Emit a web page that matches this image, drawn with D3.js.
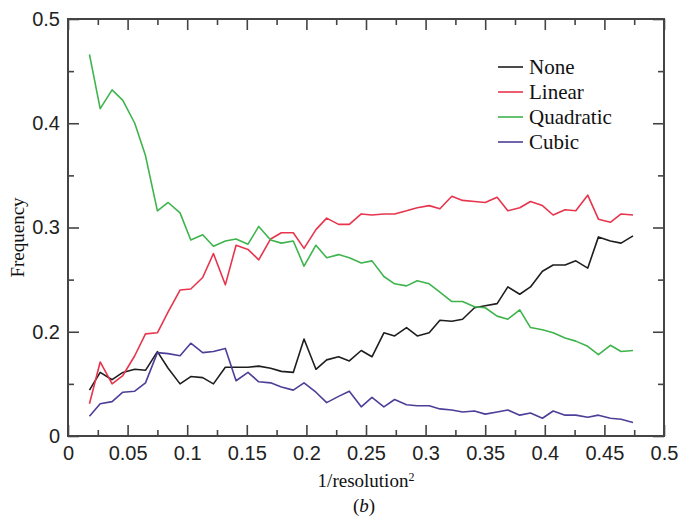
<!DOCTYPE html>
<html>
<head>
<meta charset="utf-8">
<script src="https://cdn.jsdelivr.net/npm/d3@7.9.0/dist/d3.min.js"></script>
<style>
  body { margin: 0; background: #fff; }
  svg { display: block; font-family: 'Liberation Serif', 'Times New Roman', serif; }
  .axis text { font-size: 20px; fill: #222; }
  .axis line { stroke: #444; stroke-width: 1.6px; }
</style>
</head>
<body>
<svg width="681" height="520"></svg>
<script>
// 1/resolution^2 at each point
const xValues = [0.018, 0.027, 0.037, 0.046, 0.056, 0.065, 0.075, 0.084, 0.094, 0.103,
  0.113, 0.122, 0.132, 0.141, 0.151, 0.160, 0.170, 0.179, 0.189, 0.198,
  0.208, 0.217, 0.227, 0.236, 0.246, 0.255, 0.265, 0.274, 0.284, 0.293,
  0.303, 0.312, 0.322, 0.331, 0.341, 0.350, 0.360, 0.369, 0.379, 0.388,
  0.398, 0.407, 0.417, 0.426, 0.436, 0.445, 0.455, 0.464, 0.474];

const none = [0.144, 0.161, 0.154, 0.161, 0.164, 0.163, 0.181, 0.165, 0.150, 0.157,
  0.156, 0.150, 0.166, 0.166, 0.166, 0.167, 0.165, 0.162, 0.161, 0.193,
  0.164, 0.173, 0.176, 0.172, 0.182, 0.176, 0.199, 0.196, 0.204, 0.196,
  0.199, 0.211, 0.210, 0.212, 0.223, 0.225, 0.227, 0.243, 0.236, 0.243,
  0.258, 0.264, 0.264, 0.268, 0.261, 0.291, 0.287, 0.285, 0.292];

const linear = [0.131, 0.171, 0.150, 0.158, 0.177, 0.198, 0.199, 0.219, 0.240, 0.241,
  0.252, 0.275, 0.245, 0.283, 0.279, 0.269, 0.289, 0.295, 0.295, 0.280,
  0.298, 0.309, 0.303, 0.303, 0.313, 0.312, 0.313, 0.313, 0.316, 0.319,
  0.321, 0.318, 0.330, 0.326, 0.325, 0.324, 0.329, 0.316, 0.319, 0.325,
  0.321, 0.312, 0.317, 0.316, 0.331, 0.308, 0.305, 0.313, 0.312];

const quadratic = [0.466, 0.414, 0.432, 0.422, 0.400, 0.369, 0.316, 0.324, 0.314, 0.288,
  0.293, 0.282, 0.287, 0.289, 0.284, 0.301, 0.288, 0.285, 0.287, 0.263,
  0.283, 0.271, 0.274, 0.271, 0.266, 0.268, 0.253, 0.246, 0.244, 0.249,
  0.246, 0.238, 0.229, 0.229, 0.224, 0.223, 0.215, 0.212, 0.221, 0.204,
  0.202, 0.199, 0.194, 0.191, 0.186, 0.178, 0.187, 0.181, 0.182];

const cubic = [0.119, 0.131, 0.133, 0.142, 0.143, 0.151, 0.180, 0.179, 0.177, 0.189,
  0.180, 0.181, 0.184, 0.153, 0.161, 0.152, 0.151, 0.147, 0.144, 0.151,
  0.142, 0.132, 0.138, 0.143, 0.128, 0.137, 0.128, 0.135, 0.130, 0.129,
  0.129, 0.126, 0.125, 0.123, 0.124, 0.121, 0.123, 0.125, 0.120, 0.122,
  0.117, 0.124, 0.120, 0.120, 0.118, 0.120, 0.117, 0.116, 0.113];

const seriesNames = ['None', 'Linear', 'Quadratic', 'Cubic'];
const seriesColors = ['#1e1e1e', '#e6354d', '#3fb44c', '#4b3f98'];

const xMajor = [0, 0.05, 0.1, 0.15, 0.2, 0.25, 0.3, 0.35, 0.4, 0.45, 0.5];
const xMinor = [0.025, 0.075, 0.125, 0.175, 0.225, 0.275, 0.325, 0.375, 0.425, 0.475];
const xTickLabels = ['0', '0.05', '0.1', '0.15', '0.2', '0.25', '0.3', '0.35', '0.4', '0.45', '0.5'];
// the printed axis skips 0.1 and labels the bottom as 0
const yMajor = [0.1, 0.2, 0.3, 0.4, 0.5];
const yMinor = [0.15, 0.25, 0.35, 0.45];
const yTickLabels = ['0', '0.2', '0.3', '0.4', '0.5'];

const svg = d3.select('svg');
const margin = { top: 19, right: 17, bottom: 84, left: 68 };
const width = 681 - margin.left - margin.right;
const height = 520 - margin.top - margin.bottom;
const g = svg.append('g').attr('transform', `translate(${margin.left},${margin.top})`);

const x = d3.scaleLinear().domain([0, 0.5]).range([0, width]);
const y = d3.scaleLinear().domain([0.1, 0.5]).range([height, 0]);

function tidy(sel) {
  sel.select('.domain').remove();
}

// bottom
g.append('g').attr('class', 'axis').attr('transform', `translate(0,${height})`)
  .call(d3.axisBottom(x).tickValues(xMajor).tickSize(-11).tickPadding(10)
    .tickFormat((d, i) => xTickLabels[i]))
  .call(tidy);
g.append('g').attr('class', 'axis').attr('transform', `translate(0,${height})`)
  .call(d3.axisBottom(x).tickValues(xMinor).tickSize(-6).tickFormat(''))
  .call(tidy);
// top
g.append('g').attr('class', 'axis')
  .call(d3.axisTop(x).tickValues(xMajor).tickSize(-11).tickFormat(''))
  .call(tidy);
g.append('g').attr('class', 'axis')
  .call(d3.axisTop(x).tickValues(xMinor).tickSize(-6).tickFormat(''))
  .call(tidy);
// left
g.append('g').attr('class', 'axis')
  .call(d3.axisLeft(y).tickValues(yMajor).tickSize(-11).tickPadding(8)
    .tickFormat((d, i) => yTickLabels[i]))
  .call(tidy);
g.append('g').attr('class', 'axis')
  .call(d3.axisLeft(y).tickValues(yMinor).tickSize(-6).tickFormat(''))
  .call(tidy);
// right
g.append('g').attr('class', 'axis').attr('transform', `translate(${width},0)`)
  .call(d3.axisRight(y).tickValues(yMajor).tickSize(-11).tickFormat(''))
  .call(tidy);
g.append('g').attr('class', 'axis').attr('transform', `translate(${width},0)`)
  .call(d3.axisRight(y).tickValues(yMinor).tickSize(-6).tickFormat(''))
  .call(tidy);

g.append('rect')
  .attr('width', width).attr('height', height)
  .attr('fill', 'none').attr('stroke', '#444').attr('stroke-width', 2);

const series = [none, linear, quadratic, cubic];
const line = d3.line().x((d, i) => x(xValues[i])).y(d => y(d));

series.forEach((vals, k) => {
  g.append('path')
    .datum(vals)
    .attr('d', line)
    .attr('fill', 'none')
    .attr('stroke', seriesColors[k])
    .attr('stroke-width', 1.6)
    .attr('stroke-linejoin', 'round');
});

// legend
const legend = g.append('g').attr('transform', 'translate(430,48)');
seriesNames.forEach((name, k) => {
  const row = legend.append('g').attr('transform', `translate(0,${k * 25})`);
  row.append('line').attr('x1', 0).attr('x2', 25)
    .attr('stroke', seriesColors[k]).attr('stroke-width', 1.6);
  row.append('text').attr('x', 31).attr('dy', '0.33em')
    .style('font-size', '21px').attr('fill', '#111').text(name);
});

// axis titles
const xt = svg.append('text')
  .attr('x', margin.left + width / 2).attr('y', 487)
  .attr('text-anchor', 'middle').style('font-size', '19px').attr('fill', '#111');
xt.append('tspan').text('1/resolution');
xt.append('tspan').attr('dy', '-0.5em').style('font-size', '12px').text('2');

svg.append('text')
  .attr('transform', `translate(24,${margin.top + height / 2 + 10}) rotate(-90)`)
  .attr('text-anchor', 'middle').style('font-size', '19px').attr('fill', '#111')
  .text('Frequency');

const cap = svg.append('text')
  .attr('x', margin.left + width / 2 - 2).attr('y', 512)
  .attr('text-anchor', 'middle').style('font-size', '19px').attr('fill', '#111');
cap.append('tspan').text('(');
cap.append('tspan').style('font-style', 'italic').text('b');
cap.append('tspan').text(')');
</script>
</body>
</html>
